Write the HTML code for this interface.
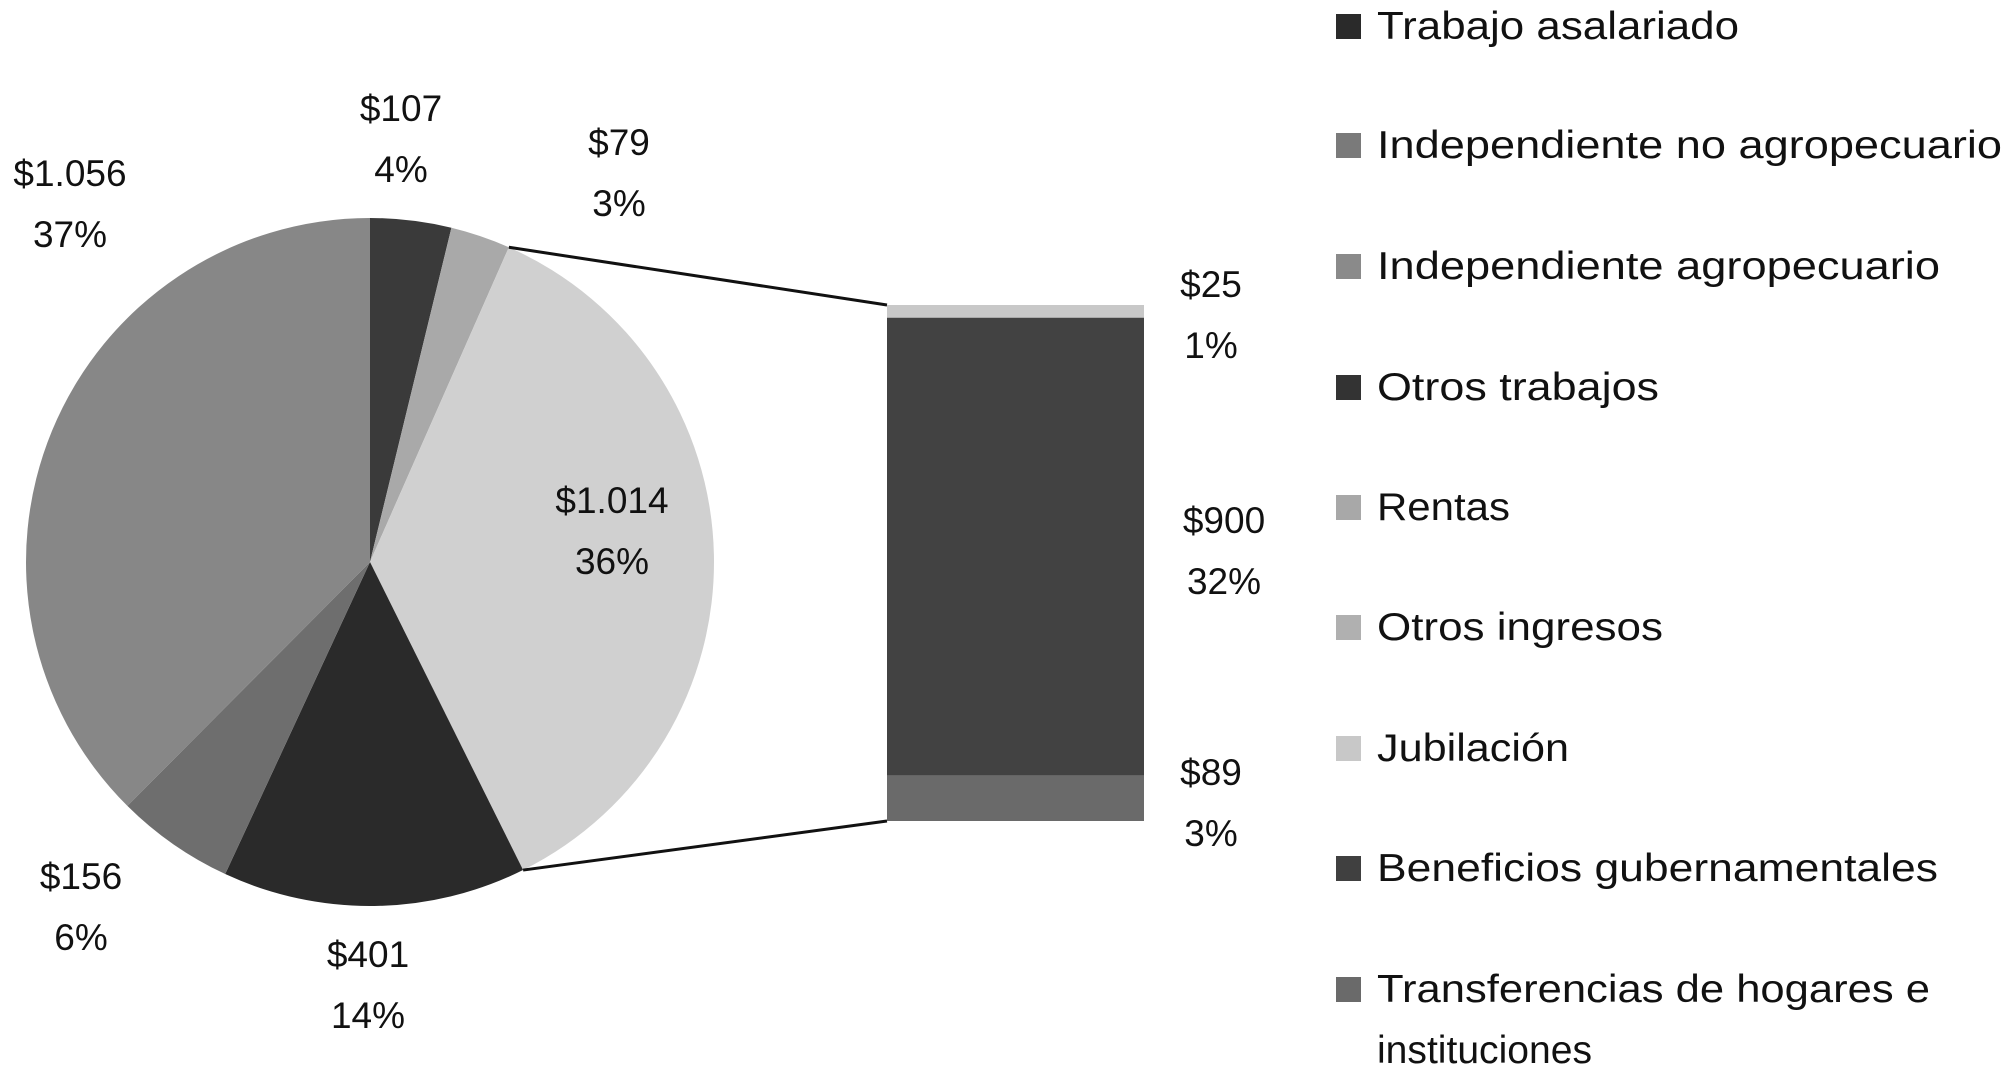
<!DOCTYPE html>
<html><head><meta charset="utf-8"><style>
html,body{margin:0;padding:0;background:#fff}
svg{display:block}
text{font-family:"Liberation Sans",sans-serif;fill:#111}
</style></head><body>
<svg id="chart" width="2008" height="1069" viewBox="0 0 2008 1069" xmlns="http://www.w3.org/2000/svg">
<g id="pie"></g>
<g id="bar"></g>
<g id="labels"></g>
<g id="legend"></g>
</svg>
<script>
const pieCategories = ["Trabajo asalariado","Rentas","Otros","Otros trabajos","Independiente agropecuario","Independiente no agropecuario"];
const pieValues = [107, 79, 1014, 401, 156, 1056];
const pieValueLabels = ["$107","$79","$1.014","$401","$156","$1.056"];
const piePctLabels = ["4%","3%","36%","14%","6%","37%"];
const pieColors = ["#3a3a3a","#a9a9a9","#d0d0d0","#2a2a2a","#6e6e6e","#878787"];
const barCategories = ["Jubilación","Beneficios gubernamentales","Transferencias de hogares e instituciones"];
const barValues = [25, 900, 89];
const barValueLabels = ["$25","$900","$89"];
const barPctLabels = ["1%","32%","3%"];
const barColors = ["#c8c8c8","#424242","#6a6a6a"];
const legendLabels = [["Trabajo asalariado"],["Independiente no agropecuario"],["Independiente agropecuario"],["Otros trabajos"],["Rentas"],["Otros ingresos"],["Jubilación"],["Beneficios gubernamentales"],["Transferencias de hogares e","instituciones"]];
const legendColors = ["#2a2a2a","#7a7a7a","#8a8a8a","#333333","#a8a8a8","#b0b0b0","#c8c8c8","#404040","#6a6a6a"];

const NS="http://www.w3.org/2000/svg";
function mk(tag,parent){const e=document.createElementNS(NS,tag);parent.appendChild(e);return e;}
const cx=370, cy=562, r=344;
const total=pieValues.reduce((a,b)=>a+b,0);
function pt(a){return [cx+r*Math.sin(a), cy-r*Math.cos(a)];}
const pieG=document.getElementById('pie');
let acc=0; const starts=[], ends=[];
pieValues.forEach((v,i)=>{
  const a0=acc/total*2*Math.PI; acc+=v; const a1=acc/total*2*Math.PI;
  starts.push(a0); ends.push(a1);
  const p0=pt(a0), p1=pt(a1);
  const p=mk('path',pieG);
  p.setAttribute('d',`M${cx},${cy} L${p0[0]},${p0[1]} A${r},${r} 0 ${a1-a0>Math.PI?1:0} 1 ${p1[0]},${p1[1]} Z`);
  p.setAttribute('fill',pieColors[i]);
  
  
});
// bar
const bx=887, bw=257, by0=305, bh=516;
const barTotal=barValues.reduce((a,b)=>a+b,0);
const barG=document.getElementById('bar');
let by=by0; const segMid=[];
barValues.forEach((v,i)=>{
  const h=v/barTotal*bh;
  const rc=mk('rect',barG);
  rc.setAttribute('x',bx);rc.setAttribute('y',by);rc.setAttribute('width',bw);rc.setAttribute('height',h);
  rc.setAttribute('fill',barColors[i]);
  
  
  segMid.push(by+h/2); by+=h;
});
// connector lines from "Otros" slice
const oi=2;
const c1=pt(starts[oi]), c2=pt(ends[oi]);
[[c1,[bx,by0]],[c2,[bx,by0+bh]]].forEach((s,k)=>{
  const l=mk('line',barG);
  l.setAttribute('x1',s[0][0]);l.setAttribute('y1',s[0][1]);l.setAttribute('x2',s[1][0]);l.setAttribute('y2',s[1][1]);
  l.setAttribute('stroke','#111');l.setAttribute('stroke-width','3');
  
  
});
// labels
const labG=document.getElementById('labels');
const pieLabelPos=[[401,121],[619,155],[612,513],[368,967],[81,889],[70,186]];
function lbl(x,y,t1,t2,name){
  const t=mk('text',labG);
  t.setAttribute('x',x);t.setAttribute('y',y);t.setAttribute('text-anchor','middle');t.setAttribute('font-size','37');
  
  
  const s1=mk('tspan',t);s1.setAttribute('x',x);s1.setAttribute('dy','0');s1.textContent=t1;
  const s2=mk('tspan',t);s2.setAttribute('x',x);s2.setAttribute('dy','61');s2.textContent=t2;
}
pieValues.forEach((v,i)=>{lbl(pieLabelPos[i][0],pieLabelPos[i][1],pieValueLabels[i],piePctLabels[i],'pie-label-'+(i+1));});
const barLabelX=[1211,1224,1211];
const barLabelY=[297,533,785];
barValues.forEach((v,i)=>{lbl(barLabelX[i],barLabelY[i],barValueLabels[i],barPctLabels[i],'bar-label-'+(i+1));});
// legend
const legG=document.getElementById('legend');
const legY=[26,145,266,387,507,627,748,868,989];
const legW=[[362],[625],[563],[282],[133],[286],[192],[561],[553,215]];
legendLabels.forEach((lines,i)=>{
  const g=mk('g',legG);
  
  
  const s=mk('rect',g);
  s.setAttribute('x',1336);s.setAttribute('y',legY[i]-12);s.setAttribute('width',25);s.setAttribute('height',25);s.setAttribute('fill',legendColors[i]);
  
  
  lines.forEach((ln,k)=>{
    const t=mk('text',g);
    t.setAttribute('x',1377);t.setAttribute('y',legY[i]+13+k*61);t.setAttribute('font-size','39');
    t.setAttribute('textLength',legW[i][k]);t.setAttribute('lengthAdjust','spacingAndGlyphs');
    
    
    t.textContent=ln;
  });
});
</script>
</body></html>
